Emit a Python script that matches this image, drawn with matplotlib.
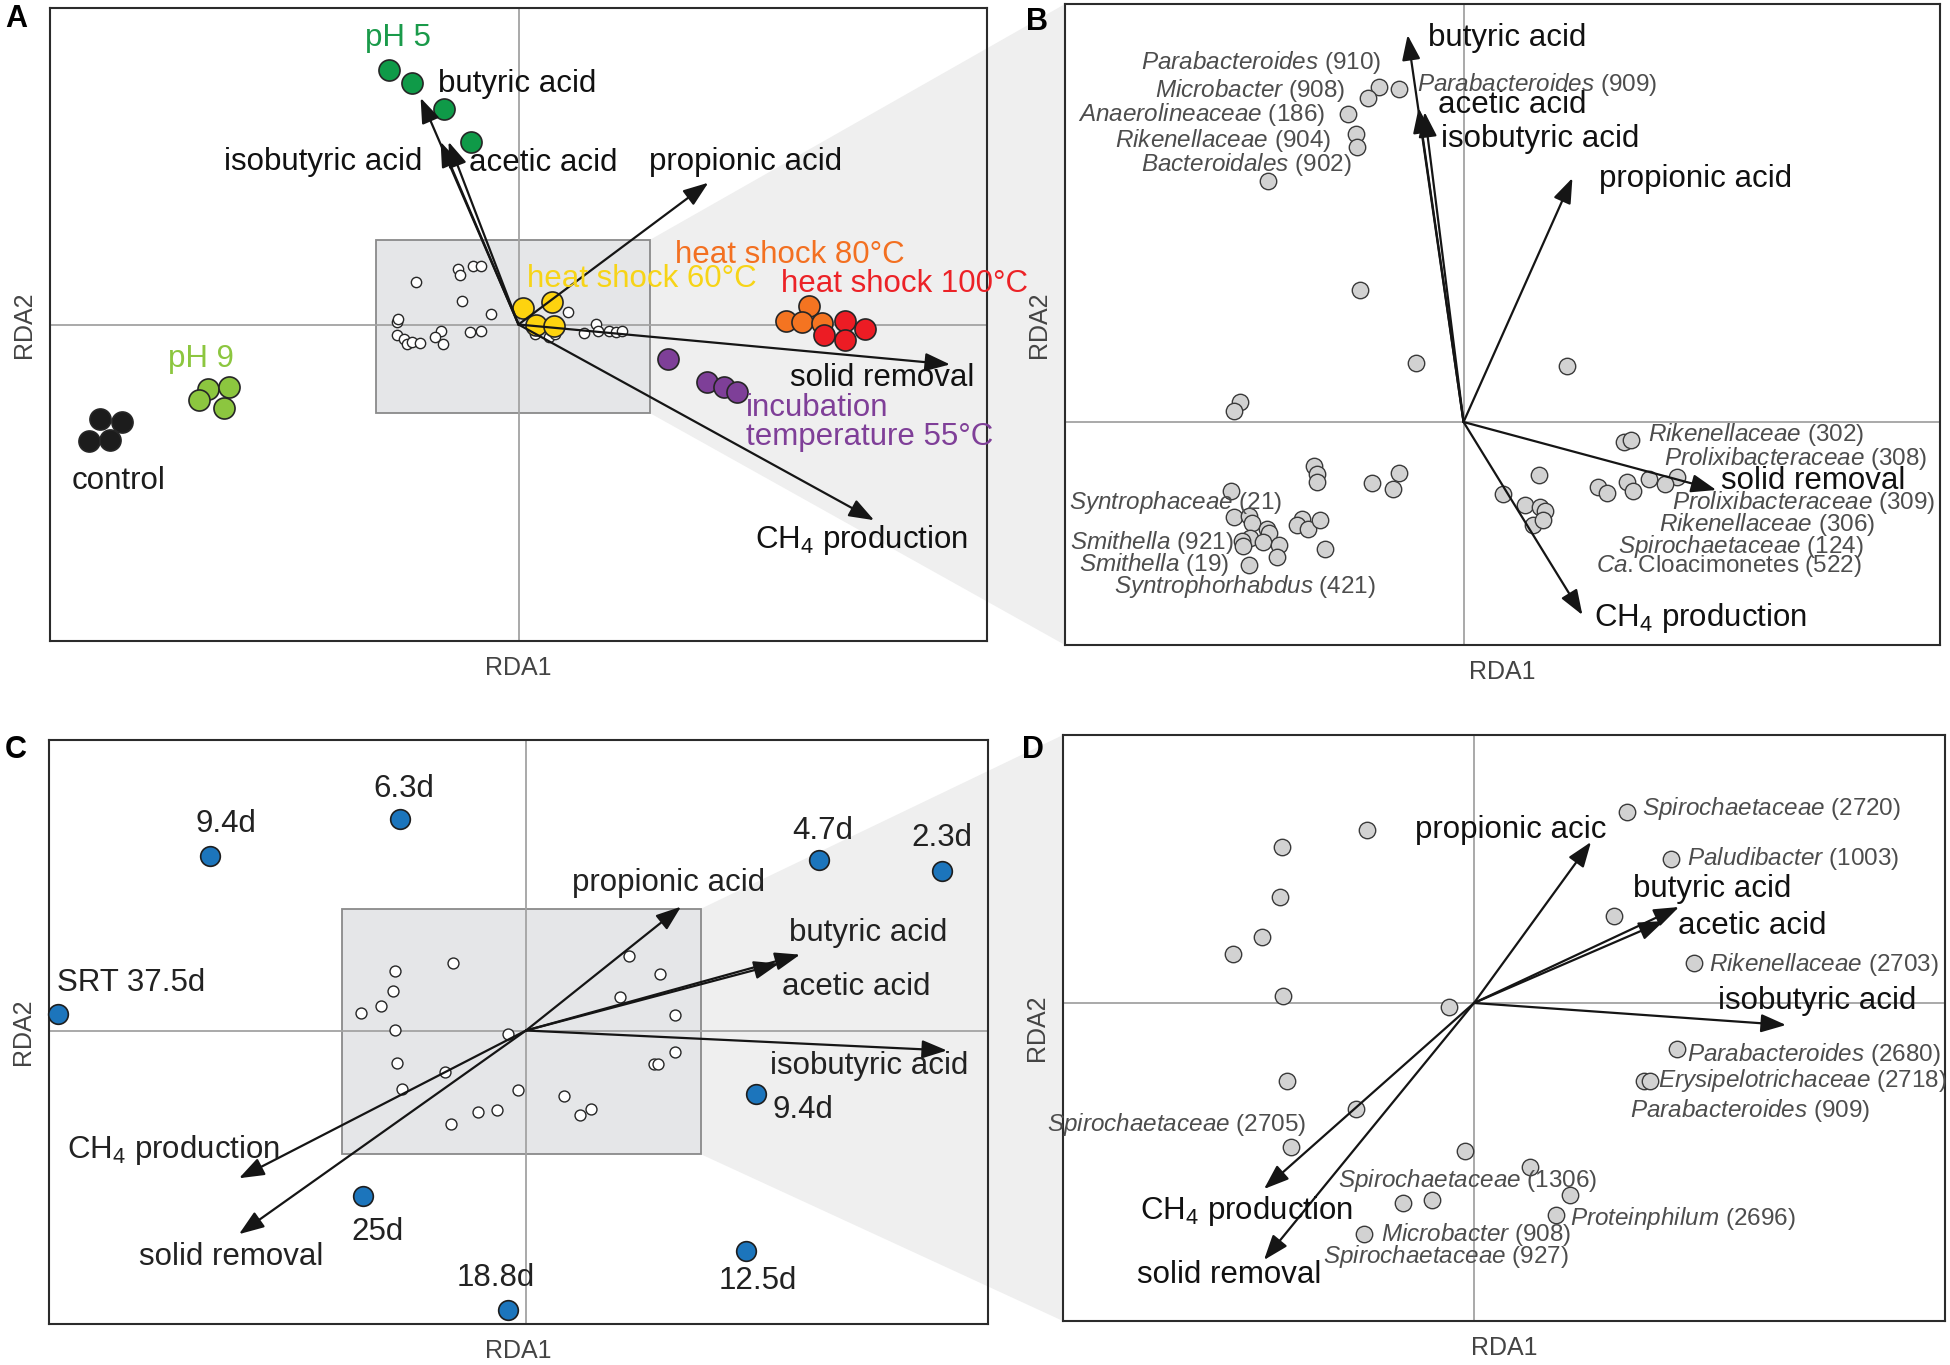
"""
Four-panel RDA biplot (samples / taxa with environmental vectors).
Saves out.png at 1950x1365.
"""

import matplotlib
matplotlib.use("Agg")
import matplotlib.pyplot as plt
import numpy as np
from matplotlib.patches import Polygon, Rectangle

plt.rcParams["font.family"] = ["Liberation Sans", "DejaVu Sans"]
plt.rcParams["mathtext.fontset"] = "custom"
plt.rcParams["mathtext.rm"] = "Liberation Sans"
plt.rcParams["mathtext.it"] = "Liberation Sans:italic"
plt.rcParams["mathtext.bf"] = "Liberation Sans:bold"

W, H, DPI = 1950, 1365, 100

# ---------------------------------------------------------------- data
# Panel A: sample scores per treatment (RDA1, RDA2)
a_control = [(-4.19, -0.95), (-3.97, -0.98), (-4.30, -1.17), (-4.09, -1.16)]
a_ph9 = [(-3.11, -0.65), (-2.90, -0.63), (-3.20, -0.76), (-2.95, -0.84)]
a_ph5 = [(-1.30, 2.55), (-1.07, 2.42), (-0.75, 2.16), (-0.48, 1.83)]
a_hs60 = [(0.05, 0.17), (0.34, 0.23), (0.18, 0.00), (0.36, -0.02)]
a_hs80 = [(2.68, 0.04), (2.91, 0.19), (2.84, 0.03), (3.04, 0.02)]
a_hs100 = [(3.27, 0.04), (3.47, -0.05), (3.06, -0.11), (3.27, -0.16)]
a_t55 = [(1.50, -0.35), (1.89, -0.58), (2.06, -0.63), (2.19, -0.68)]
# species scores (small open circles)
a_taxa = [(-1.03, 0.43), (-0.61, 0.56), (-0.59, 0.50), (-0.46, 0.59), (-0.38, 0.59),
          (-0.57, 0.24), (-0.28, 0.11), (-1.22, 0.03), (-1.21, 0.06), (-1.22, -0.11),
          (-1.15, -0.15), (-1.12, -0.20), (-1.07, -0.18), (-0.99, -0.19), (-0.78, -0.07),
          (-0.84, -0.13), (-0.76, -0.20), (-0.49, -0.08), (-0.38, -0.07), (0.50, 0.13),
          (0.34, -0.05), (0.31, -0.13), (0.17, -0.10), (0.66, -0.09), (0.78, 0.01),
          (0.80, -0.07), (0.91, -0.07), (0.98, -0.08), (1.04, -0.07), (0.37, -0.10)]
# zoom window drawn in A and expanded in B
a_window = (-1.43, -0.89, 1.32, 0.85)

vec_names = ["butyric acid", "isobutyric acid", "acetic acid",
             "propionic acid", "solid removal", "CH4 production"]
a_vec_x = [-0.98, -0.78, -0.70, 1.90, 4.32, 3.56]
a_vec_y = [2.27, 1.83, 1.83, 1.42, -0.40, -1.96]

# Panel B: taxa scores
b_taxa = [(-0.85, 3.35), (-0.65, 3.33), (-0.96, 3.24), (-1.16, 3.08), (-1.08, 2.88),
          (-1.07, 2.75), (-1.96, 2.41), (-1.04, 1.32), (-0.48, 0.59), (1.04, 0.56),
          (-2.24, 0.20), (-2.30, 0.11), (1.61, -0.20), (1.68, -0.18), (2.14, -0.55),
          (1.86, -0.57), (2.02, -0.62), (1.64, -0.60), (1.70, -0.69), (1.35, -0.65),
          (1.44, -0.71), (0.76, -0.53), (0.39, -0.72), (0.62, -0.83), (0.77, -0.85),
          (0.82, -0.89), (0.70, -1.03), (0.80, -0.98), (-1.50, -0.44), (-1.47, -0.52),
          (-1.47, -0.60), (-0.92, -0.61), (-0.65, -0.51), (-0.71, -0.67), (-2.33, -0.69),
          (-2.30, -0.95), (-2.15, -0.94), (-2.12, -1.01), (-1.97, -1.07), (-1.95, -1.11),
          (-2.14, -1.16), (-2.01, -1.20), (-1.85, -1.23), (-2.22, -1.19), (-2.21, -1.24),
          (-1.87, -1.35), (-2.15, -1.43), (-1.62, -0.97), (-1.67, -1.03), (-1.56, -1.07),
          (-1.44, -0.98), (-1.39, -1.27)]
b_vec_x = [-0.56, -0.39, -0.45, 1.09, 2.53, 1.19]
b_vec_y = [3.87, 3.10, 3.14, 2.44, -0.68, -1.93]

# Panel C: samples by SRT
c_srt = ["SRT 37.5d", "9.4d", "6.3d", "4.7d", "2.3d", "9.4d", "25d", "18.8d", "12.5d"]
c_x = [-4.68, -3.16, -1.26, 2.93, 4.16, 2.30, -1.63, -0.18, 2.20]
c_y = [0.17, 1.75, 2.12, 1.71, 1.60, -0.64, -1.66, -2.80, -2.21]
c_taxa = [(-0.73, 0.68), (-1.31, 0.60), (-1.33, 0.40), (-1.45, 0.25), (-1.65, 0.18),
          (-1.31, 0.01), (-1.29, -0.33), (-1.24, -0.59), (-0.81, -0.42), (-0.18, -0.04),
          (-0.08, -0.60), (-0.75, -0.94), (-0.48, -0.82), (-0.29, -0.80), (0.38, -0.66),
          (0.54, -0.85), (0.65, -0.79), (1.03, 0.75), (1.34, 0.57), (0.94, 0.34),
          (1.49, 0.16), (1.49, -0.22), (1.28, -0.34), (1.32, -0.34)]
c_window = (-1.84, -1.24, 1.75, 1.22)
c_vec_x = [2.74, 4.21, 2.53, 1.55, -2.87, -2.87]
c_vec_y = [0.76, -0.20, 0.67, 1.24, -2.04, -1.48]

# Panel D: taxa scores
d_taxa = [(1.53, 1.91), (-1.07, 1.73), (-1.92, 1.56), (1.97, 1.44), (-1.94, 1.06),
          (1.40, 0.87), (-2.12, 0.66), (-2.41, 0.49), (2.20, 0.40), (-1.91, 0.07),
          (-0.25, -0.04), (2.03, -0.46), (1.70, -0.78), (1.76, -0.78), (-1.87, -0.78),
          (-1.18, -1.06), (-1.83, -1.44), (-0.09, -1.48), (0.56, -1.64), (0.96, -1.92),
          (-0.71, -2.00), (-0.42, -1.97), (0.82, -2.12), (-1.10, -2.31)]
d_vec_x = [2.05, 3.12, 1.90, 1.17, -2.10, -2.10]
d_vec_y = [0.96, -0.22, 0.82, 1.61, -2.57, -1.86]

# ---------------------------------------------------------------- styles
TXT = 22.5
SMALL = 17.5
LINE_GREY = "#a3a3a3"
BOX_FILL = "#e5e6e8"
WEDGE = "#efefef"
TAXA_GREY = "#d2d2d2"
LABEL_GREY = "#4d4d4d"


def px_axes(fig, x0, y0, x1, y1, xlim, ylim):
    ax = fig.add_axes([x0 / W, 1 - y1 / H, (x1 - x0) / W, (y1 - y0) / H])
    ax.set_xlim(*xlim)
    ax.set_ylim(*ylim)
    ax.set_xticks([])
    ax.set_yticks([])
    ax.set_facecolor("none")
    for sp in ax.spines.values():
        sp.set_linewidth(1.5)
        sp.set_color("#2b2b2b")
    ax.axhline(0, color=LINE_GREY, lw=1.3, zorder=1.5)
    ax.axvline(0, color=LINE_GREY, lw=1.3, zorder=1.5)
    ax.set_xlabel("RDA1", fontsize=18, color="#444444", labelpad=11)
    ax.set_ylabel("RDA2", fontsize=18, color="#444444", labelpad=10)
    return ax


def draw_window(ax, win):
    x0, y0, x1, y1 = win
    ax.add_patch(Rectangle((x0, y0), x1 - x0, y1 - y0, facecolor=BOX_FILL,
                           edgecolor="#8a8a8a", lw=1.3, zorder=1))


def draw_vectors(ax, xs, ys):
    for x, y in zip(xs, ys):
        ax.annotate("", xy=(x, y), xytext=(0, 0), zorder=4,
                    arrowprops=dict(arrowstyle="-|>,head_length=0.9,head_width=0.33",
                                    color="#151515", lw=1.6, shrinkA=0, shrinkB=0,
                                    mutation_scale=17))


def scatter(ax, pts, color, size, edge="#262626", lw=1.2, z=3):
    pts = np.array(pts)
    ax.scatter(pts[:, 0], pts[:, 1], s=size, facecolor=color, edgecolor=edge,
               linewidth=lw, zorder=z, clip_on=False)


def label(ax, x, y, s, ha="left", size=TXT, color="#111111", **kw):
    ax.text(x, y, s, ha=ha, va="center", fontsize=size, color=color, zorder=6, **kw)


def wedge(fig, ax_from, win, ax_to):
    # grey funnel from the zoom window to the left edge of the next panel
    inv = fig.transFigure.inverted()
    x0, y0, x1, y1 = win
    top = inv.transform(ax_from.transData.transform((x1, y1)))
    bot = inv.transform(ax_from.transData.transform((x1, y0)))
    pos = ax_to.get_position()
    poly = Polygon([top, (pos.x0, pos.y1), (pos.x0, pos.y0), bot], closed=True,
                   facecolor=WEDGE, edgecolor="none", transform=fig.transFigure,
                   zorder=-1)
    fig.add_artist(poly)


def ch4(s):
    return s.replace("CH4", "CH$_4$")


fig = plt.figure(figsize=(W / DPI, H / DPI), dpi=DPI)

# ---------------------------------------------------------------- panel A
axA = px_axes(fig, 50, 8, 987, 641, (-4.69, 4.69), (-3.17, 3.17))
draw_window(axA, a_window)
scatter(axA, a_taxa, "white", 55, lw=1.0)
draw_vectors(axA, a_vec_x, a_vec_y)
scatter(axA, a_control, "#1c1c1c", 230)
scatter(axA, a_ph9, "#8cc63f", 230)
scatter(axA, a_ph5, "#0f9a48", 230)
scatter(axA, a_hs60, "#fdd30f", 230)
scatter(axA, a_hs80, "#f47421", 230)
scatter(axA, a_hs100, "#ec1c24", 230)
scatter(axA, a_t55, "#7e3f98", 230)

a_lab = {"butyric acid": (-0.81, 2.41, "left"),
         "isobutyric acid": (-0.96, 1.63, "right"),
         "acetic acid": (-0.50, 1.62, "left"),
         "propionic acid": (1.31, 1.63, "left"),
         "solid removal": (2.72, -0.54, "left"),
         "CH4 production": (2.37, -2.16, "left")}
for name in vec_names:
    x, y, ha = a_lab[name]
    label(axA, x, y, ch4(name), ha=ha)
label(axA, -1.21, 2.87, "pH 5", ha="center", color="#1a9a4a")
label(axA, -3.18, -0.35, "pH 9", ha="center", color="#8cc63f")
label(axA, -4.00, -1.57, "control", ha="center", color="#1c1c1c")
label(axA, 0.09, 0.46, "heat shock 60°C", color="#f7d417")
label(axA, 1.57, 0.70, "heat shock 80°C", color="#f37021")
label(axA, 2.63, 0.41, "heat shock 100°C", color="#ec2227")
label(axA, 2.28, -0.98, "incubation\ntemperature 55°C", color="#7f3f98",
      linespacing=0.95)

# ---------------------------------------------------------------- panel B
axB = px_axes(fig, 1065, 4, 1940, 645, (-3.99, 4.77), (-2.23, 4.18))
draw_vectors(axB, b_vec_x, b_vec_y)
scatter(axB, b_taxa, TAXA_GREY, 140, edge="#3a3a3a", lw=1.0)
b_lab = {"butyric acid": (-0.36, 3.84),
         "isobutyric acid": (-0.23, 2.83),
         "acetic acid": (-0.26, 3.17),
         "propionic acid": (1.36, 2.43),
         "solid removal": (2.58, -0.59),
         "CH4 production": (1.31, -1.96)}
for name in vec_names:
    x, y = b_lab[name]
    label(axB, x, y, ch4(name))
b_taxa_lab = [(-0.82, 3.59, "right", r"$\it{Parabacteroides}$ (910)"),
              (-1.18, 3.31, "right", r"$\it{Microbacter}$ (908)"),
              (-1.39, 3.07, "right", r"$\it{Anaerolineaceae}$ (186)"),
              (-1.33, 2.81, "right", r"$\it{Rikenellaceae}$ (904)"),
              (-1.12, 2.58, "right", r"$\it{Bacteroidales}$ (902)"),
              (-0.47, 3.38, "left", r"$\it{Parabacteroides}$ (909)"),
              (1.85, -0.12, "left", r"$\it{Rikenellaceae}$ (302)"),
              (2.01, -0.36, "left", r"$\it{Prolixibacteraceae}$ (308)"),
              (2.09, -0.81, "left", r"$\it{Prolixibacteraceae}$ (309)"),
              (1.96, -1.03, "left", r"$\it{Rikenellaceae}$ (306)"),
              (1.55, -1.24, "left", r"$\it{Spirochaetaceae}$ (124)"),
              (1.33, -1.44, "left", r"$\it{Ca.}$Cloacimonetes (522)"),
              (-3.95, -0.81, "left", r"$\it{Syntrophaceae}$ (21)"),
              (-3.94, -1.21, "left", r"$\it{Smithella}$ (921)"),
              (-3.85, -1.43, "left", r"$\it{Smithella}$ (19)"),
              (-3.50, -1.64, "left", r"$\it{Syntrophorhabdus}$ (421)")]
for x, y, ha, s in b_taxa_lab:
    label(axB, x, y, s, ha=ha, size=SMALL, color=LABEL_GREY)

# ---------------------------------------------------------------- panel C
axC = px_axes(fig, 49, 740, 988, 1324, (-4.77, 4.62), (-2.94, 2.91))
draw_window(axC, c_window)
scatter(axC, c_taxa, "white", 62, lw=1.0)
draw_vectors(axC, c_vec_x, c_vec_y)
axC.scatter(c_x, c_y, s=200, facecolor="#1c75bc", edgecolor="#1e1e1e",
            linewidth=1.2, zorder=3, clip_on=False)
c_lab_pos = [(-4.69, 0.48, "left"), (-3.00, 2.07, "center"), (-1.22, 2.42, "center"),
             (2.97, 2.00, "center"), (4.16, 1.93, "center"), (2.47, -0.80, "left"),
             (-1.48, -2.02, "center"), (-0.30, -2.48, "center"), (2.32, -2.51, "center")]
for s, (x, y, ha) in zip(c_srt, c_lab_pos):
    label(axC, x, y, s, ha=ha, color="#222222")
c_lab = {"butyric acid": (2.63, 0.98),
         "isobutyric acid": (2.44, -0.36),
         "acetic acid": (2.56, 0.44),
         "propionic acid": (0.46, 1.48),
         "solid removal": (-3.87, -2.27),
         "CH4 production": (-4.59, -1.20)}
for name in vec_names:
    x, y = c_lab[name]
    label(axC, x, y, ch4(name), color="#222222")

# ---------------------------------------------------------------- panel D
axD = px_axes(fig, 1063, 735, 1945, 1321, (-4.11, 4.71), (-3.18, 2.68))
draw_vectors(axD, d_vec_x, d_vec_y)
scatter(axD, d_taxa, TAXA_GREY, 140, edge="#3a3a3a", lw=1.0)
d_lab = {"butyric acid": (1.59, 1.14),
         "isobutyric acid": (2.44, 0.02),
         "acetic acid": (2.04, 0.77),
         "propionic acid": (-0.59, 1.73),
         "solid removal": (-3.37, -2.72),
         "CH4 production": (-3.34, -2.08)}
for name in vec_names:
    x, y = d_lab[name]
    s = "propionic acic" if name == "propionic acid" else ch4(name)
    label(axD, x, y, s)
d_taxa_lab = [(1.68, 1.94, r"$\it{Spirochaetaceae}$ (2720)"),
              (2.13, 1.45, r"$\it{Paludibacter}$ (1003)"),
              (2.35, 0.39, r"$\it{Rikenellaceae}$ (2703)"),
              (2.13, -0.52, r"$\it{Parabacteroides}$ (2680)"),
              (1.84, -0.78, r"$\it{Erysipelotrichaceae}$ (2718)"),
              (1.56, -1.07, r"$\it{Parabacteroides}$ (909)"),
              (-4.27, -1.22, r"$\it{Spirochaetaceae}$ (2705)"),
              (-1.36, -1.78, r"$\it{Spirochaetaceae}$ (1306)"),
              (0.96, -2.16, r"$\it{Proteinphilum}$ (2696)"),
              (-0.93, -2.31, r"$\it{Microbacter}$ (908)"),
              (-1.51, -2.53, r"$\it{Spirochaetaceae}$ (927)")]
for x, y, s in d_taxa_lab:
    label(axD, x, y, s, size=SMALL, color=LABEL_GREY)

# ---------------------------------------------------------------- funnels + letters
wedge(fig, axA, a_window, axB)
wedge(fig, axC, c_window, axD)

for letter, x, y in [("A", 16, 19), ("B", 1037, 22), ("C", 16, 750), ("D", 1033, 750)]:
    fig.text(x / W, 1 - y / H, letter, fontsize=22, fontweight="bold",
             ha="center", va="center")

fig.savefig("out.png", dpi=DPI)
